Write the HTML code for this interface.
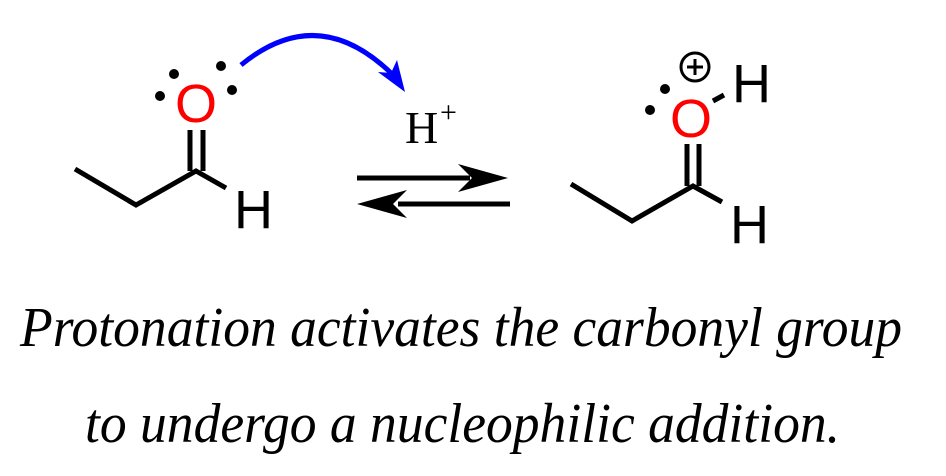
<!DOCTYPE html>
<html><head><style>html,body{margin:0;padding:0;background:#fff}svg{display:block}</style></head>
<body>
<svg width="946" height="476" viewBox="0 0 946 476" xmlns="http://www.w3.org/2000/svg">
<g stroke="#000" stroke-width="5" fill="none" stroke-linecap="butt">
<polyline points="75,169 136,205 196,171 226,188"/>
<line x1="190" y1="130" x2="190" y2="171"/>
<line x1="203" y1="130" x2="203" y2="171"/>
<polyline points="571,184 632,221 693,186 722,202"/>
<line x1="687" y1="144" x2="687" y2="186"/>
<line x1="699" y1="144" x2="699" y2="186"/>
<line x1="713" y1="101" x2="724" y2="95"/>
<line x1="357" y1="178" x2="470" y2="178"/>
<line x1="398" y1="204" x2="510" y2="204"/>
</g>
<polygon points="508,178 458,164 472,178 458,192" fill="#000"/>
<polygon points="357,204 407,190 393,204 407,218" fill="#000"/>
<g font-family="Liberation Sans, sans-serif" font-size="54">
<text x="175" y="122" fill="#f00">O</text>
<text x="234" y="228" fill="#000">H</text>
<text x="670" y="137" fill="#f00">O</text>
<text x="730" y="243" fill="#000">H</text>
<text x="732" y="102" fill="#000">H</text>
</g>
<g fill="#000">
<circle cx="160" cy="96" r="5"/><circle cx="174" cy="74" r="5"/>
<circle cx="221" cy="66" r="5"/><circle cx="232" cy="90" r="5"/>
<circle cx="665" cy="89" r="5"/><circle cx="650" cy="110" r="5"/>
</g>
<circle cx="695" cy="67" r="14" stroke="#000" stroke-width="3" fill="none"/>
<path d="M687 67 H703 M695 59 V75" stroke="#000" stroke-width="3"/>
<path d="M241 65 Q320 0 396 78" stroke="#00f" stroke-width="5" fill="none"/>
<polygon points="405,92 378,72 391,73 397,60" fill="#00f"/>
<text x="405" y="143" font-family="Liberation Serif, serif" font-size="46">H</text>
<text x="440" y="122" font-family="Liberation Serif, serif" font-size="30">+</text>
<g font-family="Liberation Serif, serif" font-style="italic" font-size="56">
<text x="20" y="346" textLength="882" lengthAdjust="spacingAndGlyphs">Protonation activates the carbonyl group</text>
<text x="85" y="442" textLength="755" lengthAdjust="spacingAndGlyphs">to undergo a nucleophilic addition.</text>
</g>
</svg>
</body></html>
